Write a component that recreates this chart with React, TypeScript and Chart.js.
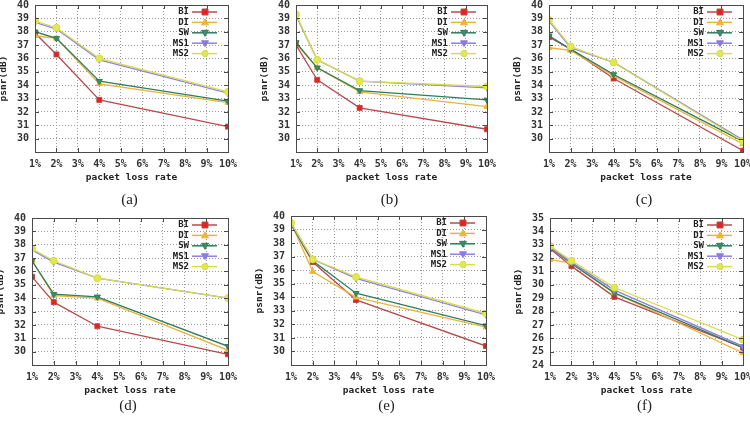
import React, { useEffect, useRef } from "react";
import { Chart, registerables } from "chart.js";
Chart.register(...registerables);

const lossRates = [1, 2, 4, 10];
const seriesNames = ["BI", "DI", "SW", "MS1", "MS2"];
const xTickValues = [1, 2, 3, 4, 5, 6, 7, 8, 9, 10];

// (a)
const aBI = [37.9, 36.3, 32.9, 30.9];
const aDI = [37.7, 37.5, 34.1, 32.7];
const aSW = [38.0, 37.5, 34.3, 32.8];
const aMS1 = [38.7, 38.2, 35.9, 33.4];
const aMS2 = [38.8, 38.3, 36.0, 33.5];
// (b)
const bBI = [37.0, 34.4, 32.3, 30.7];
const bDI = [37.1, 35.3, 33.5, 32.4];
const bSW = [37.2, 35.3, 33.6, 32.9];
const bMS1 = [39.2, 35.9, 34.3, 33.8];
const bMS2 = [39.3, 35.9, 34.3, 33.9];
// (c)
const cBI = [37.6, 36.7, 34.5, 29.1];
const cDI = [36.8, 36.6, 34.7, 29.6];
const cSW = [37.7, 36.7, 34.8, 29.8];
const cMS1 = [38.8, 36.8, 35.7, 29.9];
const cMS2 = [38.9, 36.9, 35.7, 29.8];
// (d)
const dBI = [35.6, 33.7, 31.9, 29.8];
const dDI = [36.8, 34.2, 34.0, 30.1];
const dSW = [36.8, 34.3, 34.1, 30.4];
const dMS1 = [37.6, 36.7, 35.5, 34.0];
const dMS2 = [37.7, 36.8, 35.5, 34.0];
// (e)
const eBI = [39.4, 36.6, 33.8, 30.4];
const eDI = [39.5, 35.9, 34.0, 31.8];
const eSW = [39.4, 36.7, 34.3, 31.9];
const eMS1 = [39.5, 36.8, 35.4, 32.7];
const eMS2 = [39.5, 36.8, 35.5, 32.8];
// (f)
const fBI = [32.7, 31.4, 29.1, 25.3];
const fDI = [31.9, 31.6, 29.4, 24.9];
const fSW = [32.8, 31.6, 29.4, 25.3];
const fMS1 = [32.8, 31.7, 29.6, 25.4];
const fMS2 = [32.9, 31.8, 29.8, 25.9];

const lineColors = ["#b84a4c", "#e8b43c", "#2f7d5c", "#8f80e6", "#d6de4a"];
const markerColors = ["#e8201e", "#f2b820", "#3f8c6a", "#8a78ea", "#e2e84e"];
const pointStyles = ["rect", "triangle", "triangle", "triangle", "circle"];
const pointRotations = [0, 0, 180, 180, 0];

const MONO = "'DejaVu Sans Mono', 'Liberation Mono', monospace";
const CW = 250;
const CH = 190;

type Spec = {
  px: number; py: number; left: number; right: number; top: number; bottom: number;
  ymin: number; ymax: number; labelMin: number; caption: string; capY: number;
  series: number[][];
};

const panels: Spec[] = [
  { px: 0, py: 0, left: 35, right: 228, top: 5, bottom: 152, ymin: 29, ymax: 40, labelMin: 30, caption: "(a)", capY: 199, series: [aBI, aDI, aSW, aMS1, aMS2] },
  { px: 250, py: 0, left: 296, right: 487, top: 5, bottom: 152, ymin: 29, ymax: 40, labelMin: 30, caption: "(b)", capY: 199, series: [bBI, bDI, bSW, bMS1, bMS2] },
  { px: 500, py: 0, left: 549, right: 743, top: 5, bottom: 152, ymin: 29, ymax: 40, labelMin: 30, caption: "(c)", capY: 199, series: [cBI, cDI, cSW, cMS1, cMS2] },
  { px: 0, py: 211, left: 32, right: 228, top: 218, bottom: 365, ymin: 29, ymax: 40, labelMin: 30, caption: "(d)", capY: 405, series: [dBI, dDI, dSW, dMS1, dMS2] },
  { px: 250, py: 211, left: 291, right: 486, top: 216, bottom: 365, ymin: 29, ymax: 40, labelMin: 30, caption: "(e)", capY: 405, series: [eBI, eDI, eSW, eMS1, eMS2] },
  { px: 500, py: 211, left: 550, right: 743, top: 218, bottom: 365, ymin: 24, ymax: 35, labelMin: 24, caption: "(f)", capY: 405, series: [fBI, fDI, fSW, fMS1, fMS2] },
];

function drawMarker(ctx: CanvasRenderingContext2D, i: number, x: number, y: number) {
  const r = 3.5;
  ctx.fillStyle = markerColors[i];
  ctx.strokeStyle = lineColors[i];
  ctx.lineWidth = 1;
  ctx.beginPath();
  if (pointStyles[i] === "rect") {
    ctx.rect(x - r * 0.85, y - r * 0.85, r * 1.7, r * 1.7);
  } else if (pointStyles[i] === "circle") {
    ctx.arc(x, y, r * 0.9, 0, Math.PI * 2);
  } else if (pointRotations[i] === 180) {
    ctx.moveTo(x - r, y - r * 0.7);
    ctx.lineTo(x + r, y - r * 0.7);
    ctx.lineTo(x, y + r);
    ctx.closePath();
  } else {
    ctx.moveTo(x - r, y + r * 0.7);
    ctx.lineTo(x + r, y + r * 0.7);
    ctx.lineTo(x, y - r);
    ctx.closePath();
  }
  ctx.fill();
  ctx.stroke();
}

const decorPlugin = {
  id: "decor",
  afterDatasetsDraw(chart: any) {
    const { ctx, chartArea } = chart;
    const { left, right, top, bottom } = chartArea;
    ctx.save();
    // frame
    ctx.strokeStyle = "#4a4a4a";
    ctx.lineWidth = 1;
    ctx.strokeRect(Math.round(left) + 0.5, Math.round(top) + 0.5, Math.round(right - left), Math.round(bottom - top));
    // inward tick marks
    const xs = chart.scales.x;
    const ys = chart.scales.y;
    ctx.beginPath();
    xs.ticks.forEach((t: any) => {
      const x = Math.round(xs.getPixelForValue(t.value)) + 0.5;
      ctx.moveTo(x, bottom); ctx.lineTo(x, bottom - 4);
      ctx.moveTo(x, top); ctx.lineTo(x, top + 4);
    });
    ys.ticks.forEach((t: any) => {
      const y = Math.round(ys.getPixelForValue(t.value)) + 0.5;
      ctx.moveTo(left, y); ctx.lineTo(left + 4, y);
      ctx.moveTo(right, y); ctx.lineTo(right - 4, y);
    });
    ctx.stroke();
    // legend
    ctx.font = `bold 9px ${MONO}`;
    ctx.textAlign = "right";
    ctx.textBaseline = "middle";
    seriesNames.forEach((name, i) => {
      const y = top + 7 + i * 10.4;
      ctx.fillStyle = "#222";
      ctx.fillText(name, right - 39, y);
      ctx.strokeStyle = lineColors[i];
      ctx.lineWidth = 1.5;
      ctx.beginPath();
      ctx.moveTo(right - 36, y);
      ctx.lineTo(right - 11, y);
      ctx.stroke();
      drawMarker(ctx, i, right - 23, y);
    });
    // axis titles
    ctx.fillStyle = "#222";
    ctx.font = `bold 9.5px ${MONO}`;
    ctx.textAlign = "center";
    ctx.textBaseline = "middle";
    ctx.fillText("packet loss rate", (left + right) / 2, bottom + 26);
    ctx.save();
    ctx.translate(left - 31, (top + bottom) / 2);
    ctx.rotate(-Math.PI / 2);
    ctx.fillText("psnr(dB)", 0, 0);
    ctx.restore();
    ctx.restore();
  },
};

function Panel({ spec }: { spec: Spec }) {
  const ref = useRef<HTMLCanvasElement>(null);
  useEffect(() => {
    if (!ref.current) return;
    const datasets = spec.series.map((vals, i) => ({
      label: seriesNames[i],
      data: lossRates.map((x, j) => ({ x, y: vals[j] })),
      borderColor: lineColors[i],
      backgroundColor: markerColors[i],
      pointBackgroundColor: markerColors[i],
      pointBorderColor: lineColors[i],
      pointBorderWidth: 1,
      pointStyle: pointStyles[i] as any,
      pointRotation: pointRotations[i],
      pointRadius: 3.5,
      borderWidth: 1.3,
      tension: 0,
      order: 4 - i,
    }));
    const chart = new Chart(ref.current, {
      type: "line",
      data: { datasets },
      plugins: [decorPlugin],
      options: {
        animation: false,
        responsive: false,
        layout: {
          padding: { left: 0, top: spec.top - spec.py, right: spec.px + CW - spec.right, bottom: 0 },
        },
        plugins: { legend: { display: false }, tooltip: { enabled: false } },
        scales: {
          x: {
            type: "linear",
            min: 1,
            max: 10,
            afterBuildTicks: (s: any) => { s.ticks = xTickValues.map((v) => ({ value: v })); },
            afterFit: (s: any) => { s.height = CH - (spec.bottom - spec.py); s.paddingLeft = 0; s.paddingRight = 0; },
            ticks: {
              autoSkip: false,
              maxRotation: 0,
              padding: 6,
              color: "#333",
              font: { family: MONO, size: 10, weight: "bold" },
              callback: (v: any) => `${v}%`,
            },
            grid: { color: "#9a9a9a", drawTicks: false, lineWidth: 1 },
            border: { display: false, dash: [1, 2] },
          },
          y: {
            type: "linear",
            min: spec.ymin,
            max: spec.ymax,
            afterFit: (s: any) => { s.width = spec.left - spec.px; s.paddingTop = 0; s.paddingBottom = 0; },
            ticks: {
              autoSkip: false,
              stepSize: 1,
              padding: 6,
              color: "#333",
              font: { family: MONO, size: 10, weight: "bold" },
              callback: (v: any) => (v < spec.labelMin ? "" : `${v}`),
            },
            grid: { color: "#9a9a9a", drawTicks: false, lineWidth: 1 },
            border: { display: false, dash: [1, 2] },
          },
        },
      } as any,
    });
    return () => chart.destroy();
  }, [spec]);
  return (
    <>
      <canvas
        ref={ref}
        width={CW}
        height={CH}
        style={{ position: "absolute", left: spec.px, top: spec.py, width: CW, height: CH }}
      />
      <div
        style={{
          position: "absolute",
          left: (spec.left + spec.right) / 2 - 2 - 30,
          top: spec.capY - 10,
          width: 60,
          textAlign: "center",
          fontFamily: "'Liberation Serif', 'Times New Roman', serif",
          fontSize: 15,
          lineHeight: "20px",
          color: "#222",
        }}
      >
        {spec.caption}
      </div>
    </>
  );
}

export default function App() {
  return (
    <div style={{ position: "absolute", left: 0, top: 0, width: 750, height: 422, background: "#fff", overflow: "hidden" }}>
      {panels.map((p) => (
        <Panel key={p.caption} spec={p} />
      ))}
    </div>
  );
}
